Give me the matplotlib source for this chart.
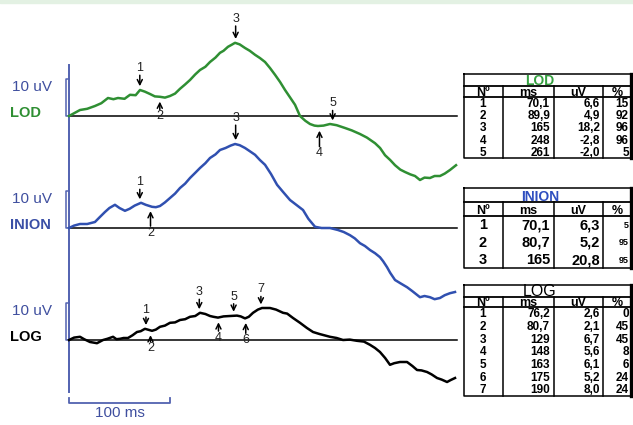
import numpy as np
import matplotlib
matplotlib.use("Agg")
import matplotlib.pyplot as plt

plt.rcParams['font.family'] = ['Liberation Sans', 'DejaVu Sans']

# traces: time in ms, amplitude in uV
lod_ms = [0, 10.9, 18, 25.7, 32, 38.6, 44, 48.5, 55, 60.4, 66, 70.3, 75, 80.2, 85, 90.1, 95, 100,
          105, 109.9, 115, 119.8, 125, 129.7, 135, 139.6, 145, 149.5, 153, 157.4, 161, 164.4, 169,
          174.3, 179, 184.2, 189, 194.1, 199, 204, 209, 213.9, 219, 223.8, 228.7, 234, 238.6, 243,
          246.5, 252, 258.4, 265, 273.3, 280, 288.1, 295, 303, 308, 312.9, 318, 322.8, 328, 332.7,
          338, 342.6, 347.5, 352, 357.4, 362, 367.3, 372, 377.2, 383.2]
lod_uv = [0, 1.5, 1.8, 2.5, 3.2, 4.5, 4.2, 4.5, 4.3, 5.3, 5.2, 6.5, 6.1, 5.5, 4.9, 4.8, 4.6, 5.0,
          5.6, 6.8, 7.9, 9.0, 10.4, 11.5, 12.3, 13.5, 14.6, 15.8, 16.3, 17.3, 17.8, 18.3, 17.9,
          17.0, 16.3, 15.3, 14.5, 13.5, 12.0, 10.3, 8.5, 6.5, 4.6, 2.8, 0, -1.2, -2.0, -2.4,
          -2.5, -2.4, -2.0, -2.3, -3.0, -3.6, -4.5, -5.4, -6.8, -8.0, -9.8, -11.0, -12.3, -13.4, -14.0,
          -14.6, -15.0, -16.0, -15.4, -15.5, -15.0, -15.0, -14.4, -13.5, -12.3]

inion_ms = [0, 5, 10.9, 18, 25.7, 30, 35.6, 40, 45.5, 50, 55.4, 60, 65, 71.3, 76, 82.2, 86, 90.1,
            95, 100, 105, 109.9, 115, 119.8, 125, 129.7, 135, 139.6, 145, 149.5, 155, 160, 164.4,
            169, 174.3, 179, 184.2, 189, 194.1, 200, 206, 212, 218.8, 225, 231.7, 237, 243.6, 250,
            258.4, 266.3, 272, 278.2, 283, 288.1, 293, 298, 303, 307.9, 311, 314.9, 318, 322.8,
            328, 334.7, 340, 347.5, 352, 357.4, 362, 367.3, 372, 377.2, 382.2]
inion_uv = [0, 0.6, 1.0, 1.0, 1.5, 2.6, 4.0, 5.0, 5.8, 5.0, 4.3, 4.8, 5.6, 6.3, 5.8, 5.3, 5.2, 5.5,
            6.4, 7.5, 8.6, 10.0, 11.1, 12.5, 13.8, 15.0, 16.2, 17.5, 18.4, 19.5, 20.0, 20.6, 21.0,
            20.7, 20.0, 19.2, 18.3, 17.0, 15.8, 13.5, 10.8, 9.0, 7.0, 5.8, 4.5, 2.3, 0.3, 0,
            0, -0.5, -1.0, -1.8, -2.6, -3.8, -4.5, -5.5, -6.3, -7.3, -8.3, -9.8, -11.2, -13.0,
            -13.8, -14.8, -15.8, -17.3, -17.0, -17.3, -17.8, -17.5, -16.8, -16.3, -16.0]

log_ms = [0, 5, 10.9, 15, 20.8, 27.7, 33.7, 38, 43.6, 47, 50.5, 54, 58.4, 63, 67.3, 71, 75.2, 82.2,
          86, 90.1, 95, 100, 105, 109.9, 115, 119.8, 125, 129.7, 135, 139.6, 143, 147.5, 153, 159.4,
          166.3, 170, 174.3, 178, 182.2, 187, 191.1, 199, 205, 211.9, 216, 221.8, 228.7, 235.6,
          241.6, 248, 258.4, 265, 271.3, 278, 285.1, 292, 298, 303, 307.9, 313, 317.8, 322, 327.7,
          334.7, 340, 344.6, 349, 354.5, 359, 364.4, 369, 374.3, 378, 382.2]
log_uv = [0, 0.6, 0.8, 0.2, -0.5, -0.8, 0, 0.3, 0.8, 0.2, 0.3, 0.5, 0.5, 1.2, 2.0, 2.2, 2.8, 2.3,
          2.6, 3.3, 3.6, 4.3, 4.4, 5.0, 5.2, 5.8, 6.0, 6.8, 6.5, 6.0, 5.8, 5.6, 5.9, 6.0,
          6.1, 5.9, 5.4, 5.8, 6.8, 7.6, 8.0, 8.0, 7.6, 6.8, 6.6, 5.5, 4.3, 3.0,
          2.0, 1.5, 0.8, 0.5, 0, 0.1, -0.2, -0.4, -1.2, -2.0, -3.0, -4.5, -6.2, -5.8, -5.5,
          -5.5, -6.5, -7.5, -7.6, -8.0, -8.6, -9.5, -9.9, -10.5, -10.0, -9.5]

# peak tables
lod_no = ['1', '2', '3', '4', '5']
lod_t = ['70,1', '89,9', '165', '248', '261']
lod_v = ['6,6', '4,9', '18,2', '-2,8', '-2,0']
lod_p = ['15', '92', '96', '96', '5']

inion_no = ['1', '2', '3']
inion_t = ['70,1', '80,7', '165']
inion_v = ['6,3', '5,2', '20,8']
inion_p = ['5', '95', '95']

log_no = ['1', '2', '3', '4', '5', '6', '7']
log_t = ['76,2', '80,7', '129', '148', '163', '175', '190']
log_v = ['2,6', '2,1', '6,7', '5,6', '6,1', '5,2', '8,0']
log_p = ['0', '45', '45', '8', '6', '24', '24']

# arrow directions (d = points down onto a peak, u = points up at a trough)
lod_dir = ['d', 'u', 'd', 'u', 'd']
inion_dir = ['d', 'u', 'd']
log_dir = ['d', 'u', 'd', 'u', 'd', 'u', 'd']

GREEN = '#2f8f33'
BLUE = '#3050b0'
AXBLUE = '#5262b0'
TXTBLUE = '#3f4f9f'

fig = plt.figure(figsize=(6.33, 4.25), dpi=100)
ax = fig.add_axes([0, 0, 1, 1])
ax.set_xlim(-69 / 1.01, 564 / 1.01)
ax.set_ylim(-77.25, 29)
ax.axis('off')

# faint band at top
fig.patches.append(plt.Rectangle((0, 0.992), 1, 0.008, transform=fig.transFigure,
                                 color='#e3f1e3', zorder=0))

def tonum(s):
    return float(s.replace(',', '.'))

channels = [
    ('LOD', 0, lod_ms, lod_uv, GREEN, GREEN, lod_t, lod_dir, [2.75, 2.0, 3.25, 4.0, 2.5]),
    ('INION', -28, inion_ms, inion_uv, BLUE, '#3a4fa6', inion_t, inion_dir, [2.5, 3.75, 3.75]),
    ('LOG', -56, log_ms, log_uv, 'black', 'black', log_t, log_dir, [2.0, 1.6, 2.5, 2.2, 2.0, 2.6, 2.0]),
]

for name, off, ms, uv, col, lcol, tt, dirs, lens in channels:
    ms = np.array(ms)
    uv = np.array(uv)
    ax.plot([0, 384], [off, off], color='black', lw=1.1, zorder=2)
    ax.plot(ms, uv + off, color=col, lw=1.8, zorder=3, solid_joinstyle='round')
    # 10 uV bracket
    ax.plot([0, -3, -3, 0], [off, off, off + 9.3, off + 9.3], color=AXBLUE, lw=1.1, zorder=2)
    ax.text(-56, off + 7.3, '10 uV', color=TXTBLUE, fontsize=11, ha='left', va='center')
    ax.text(-58.5, off + 0.8, name, color=lcol, fontsize=10.5, fontweight='bold',
            ha='left', va='center')
    for i, (t, d) in enumerate(zip(tt, dirs)):
        t = tonum(t)
        y = np.interp(t, ms, uv) + off
        if d == 'd':
            tip = y + 1.0
            tail = tip + lens[i]
            lab_y, va = tail + 0.3, 'bottom'
        else:
            tip = y - 1.2
            tail = tip - lens[i]
            lab_y, va = tail - 0.2, 'top'
        ax.annotate('', xy=(t, tip), xytext=(t, tail),
                    arrowprops=dict(arrowstyle='->', lw=1.1, color='black',
                                    shrinkA=0, shrinkB=0, mutation_scale=9), zorder=4)
        ax.text(t, lab_y, str(i + 1), fontsize=9, color='#222222', ha='center', va=va, zorder=4)

# vertical axis and time bar
ax.plot([0, 0], [12.75, -69], color=AXBLUE, lw=1.4, zorder=2)
ax.plot([0, 0, 100, 100], [-70.5, -71.75, -71.75, -70.5], color=AXBLUE, lw=1.3)
ax.text(50, -74.2, '100 ms', color=TXTBLUE, fontsize=11, ha='center', va='center')

# tables drawn in pixel coordinates
tab = fig.add_axes([0, 0, 1, 1])
tab.set_xlim(0, 633)
tab.set_ylim(425, 0)
tab.axis('off')
tab.patch.set_alpha(0)

def draw_table(top, sep1, sep2, bottom, title, tcol, tsize, tbold, nos, ts, vs, ps,
               rsize, psize):
    L, R = 464, 631
    cols = [503, 554, 603]
    tab.plot([L, R, R, L, L], [top, top, bottom, bottom, top], color='black', lw=1.1, zorder=5)
    tab.plot([R, R], [top, bottom], color='black', lw=2.4, zorder=5)
    tab.plot([L, R], [sep1, sep1], color='black', lw=1.3, zorder=5)
    tab.plot([L, R], [sep2, sep2], color='black', lw=1.3, zorder=5)
    for c in cols:
        tab.plot([c, c], [sep1, bottom], color='black', lw=1.1, zorder=5)
    tab.text(540, sep1 + 2, title, color=tcol, fontsize=tsize,
             fontweight='bold' if tbold else 'normal', ha='center', va='bottom', zorder=4)
    hy = (sep1 + sep2) / 2 + 1.5
    for x, h in zip([483, 528, 578, 617], ['Nº', 'ms', 'uV', '%']):
        tab.text(x, hy, h, fontsize=9, fontweight='bold', ha='center', va='center', zorder=4)
    n = len(nos)
    step = (bottom - sep2) / n
    for i in range(n):
        y = sep2 + step * (i + 0.5) + 0.8
        tab.text(483, y, nos[i], fontsize=rsize, fontweight='bold', ha='center', va='center', zorder=4)
        tab.text(550, y, ts[i], fontsize=rsize, fontweight='bold', ha='right', va='center', zorder=4)
        tab.text(600, y, vs[i], fontsize=rsize, fontweight='bold', ha='right', va='center', zorder=4)
        tab.text(629, y, ps[i], fontsize=psize, fontweight='bold', ha='right', va='center', zorder=4)

draw_table(74, 86, 97, 158, 'LOD', '#35a040', 10, True, lod_no, lod_t, lod_v, lod_p, 8.5, 8.5)
draw_table(188, 202, 216, 268, 'INION', '#2f4fc0', 10, True, inion_no, inion_t, inion_v, inion_p, 10.5, 6.5)
draw_table(285, 297, 307, 396, 'LOG', 'black', 11.5, False, log_no, log_t, log_v, log_p, 8.5, 8.5)

fig.savefig('out.png', dpi=100)
